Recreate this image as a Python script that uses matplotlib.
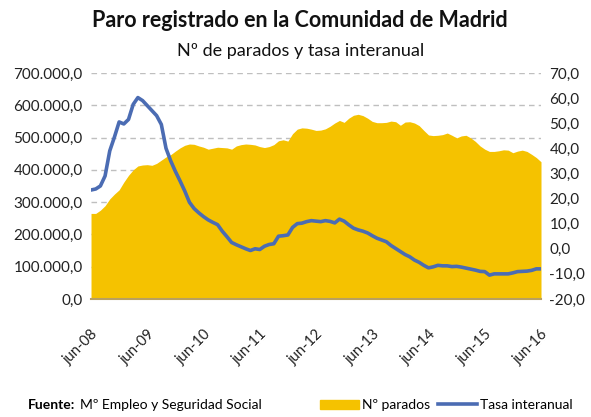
import matplotlib
matplotlib.use("Agg")
import matplotlib.pyplot as plt
import numpy as np
from matplotlib.lines import Line2D
from matplotlib.patches import Patch

# monthly data, jun-08 .. jun-16
paro = [265, 265, 275, 289, 310, 325, 338, 362, 383, 400, 412, 415, 416, 414, 420, 430,
        440, 447, 458, 468, 476, 480, 479, 474, 470, 464, 467, 470, 469, 468, 464, 474,
        478, 480, 479, 477, 472, 469, 472, 478, 490, 493, 489, 512, 526, 530, 529, 526,
        522, 523, 527, 535, 545, 553, 547, 560, 569, 572, 568, 560, 550, 546, 546, 547,
        551, 549, 538, 548, 549, 545, 537, 522, 508, 506, 507, 509, 514, 507, 499, 505,
        507, 499, 488, 474, 464, 457, 457, 459, 462, 461, 453, 458, 461, 457, 448, 438,
        425]
paro = np.array(paro) * 1000

tasa = [23.4, 23.8, 25.0, 29.0, 39.0, 44.5, 50.5, 49.7, 51.5, 57.5, 60.2, 59.0, 57.0, 55.0,
        53.0, 49.5, 40.0, 35.0, 30.8, 27.0, 23.0, 18.5, 16.0, 14.3, 12.8, 11.5, 10.5, 9.6,
        7.0, 4.8, 2.5, 1.6, 0.8, 0.0, -0.7, 0.0, -0.3, 1.0, 1.7, 2.0, 5.0, 5.2, 5.5, 8.5,
        10.0, 10.2, 10.8, 11.2, 11.0, 10.8, 11.2, 10.9, 10.3, 11.8, 11.0, 9.5, 8.2, 7.5,
        7.0, 6.3, 5.2, 4.2, 3.5, 2.8, 1.3, 0.1, -1.1, -2.3, -3.2, -4.5, -5.4, -6.6, -7.6,
        -7.2, -6.6, -6.8, -6.8, -7.1, -7.0, -7.3, -7.7, -8.1, -8.5, -9.0, -9.1, -10.5,
        -10.0, -10.0, -10.0, -10.0, -9.6, -9.1, -9.0, -8.9, -8.6, -8.0, -8.0]

xlabels = ["jun-08", "jun-09", "jun-10", "jun-11", "jun-12", "jun-13", "jun-14", "jun-15", "jun-16"]

gold = "#F5C200"
blue = "#4B6CB3"
plt.rcParams["font.family"] = ["Lato", "DejaVu Sans"]

x = np.arange(len(paro))

fig = plt.figure(figsize=(5.91, 4.17), dpi=100)
ax = fig.add_axes([0.154, 0.283, 0.7614, 0.542])
ax.fill_between(x, paro, color=gold, lw=0, zorder=2)
ax.set_xlim(0, 96)
ax.set_ylim(0, 700000)
ax.set_yticks(np.arange(0, 700001, 100000))
ax.set_yticklabels([f"{v:,.1f}".replace(",", "X").replace(".", ",").replace("X", ".")
                    for v in range(0, 700001, 100000)])
ax.yaxis.grid(True, ls=(0, (4, 3)), color="#BFBFBF", lw=1, zorder=0)
ax.set_axisbelow(True)
ax.set_xticks(np.arange(0, 97, 12))
ax.set_xticklabels(xlabels, rotation=45, ha="right", va="top", rotation_mode="anchor")
for s in ["top", "left", "right"]:
    ax.spines[s].set_visible(False)
ax.spines["bottom"].set_color("#B8A060")
ax.spines["bottom"].set_linewidth(1.5)
ax.spines["bottom"].set_zorder(3)
ax.tick_params(length=0, labelsize=11, colors="#222222", pad=6)
ax.tick_params(axis="x", labelsize=10.5, pad=20)

ax2 = ax.twinx()
ax2.plot(x, tasa, color=blue, lw=2.6, zorder=4)
ax2.set_ylim(-20, 70)
ax2.set_yticks(np.arange(-20, 71, 10))
ax2.set_yticklabels([f"{v:.1f}".replace(".", ",") for v in range(-20, 71, 10)])
for s in ["top", "left", "right", "bottom"]:
    ax2.spines[s].set_visible(False)
ax2.tick_params(length=0, labelsize=11, colors="#222222", pad=6)

fig.text(0.508, 0.952, "Paro registrado en la Comunidad de Madrid", ha="center", va="center",
         fontsize=15.5, fontweight="bold", color="#111111")
fig.text(0.508, 0.878, "Nº de parados y tasa interanual", ha="center", va="center",
         fontsize=13, color="#111111")

fig.text(0.047, 0.028, "Fuente:", fontsize=10, fontweight="bold", va="center")
fig.text(0.135, 0.028, "Mº Empleo y Seguridad Social", fontsize=10, va="center")

handles = [Patch(color=gold), Line2D([0], [0], color=blue, lw=2.6)]
fig.legend(handles, ["Nº parados", "Tasa interanual"], loc="center", ncol=2,
           bbox_to_anchor=(0.755, 0.028), frameon=False, fontsize=10,
           handlelength=2.8, handletextpad=0.2, columnspacing=0.6)

fig.savefig("out.png", dpi=100)
